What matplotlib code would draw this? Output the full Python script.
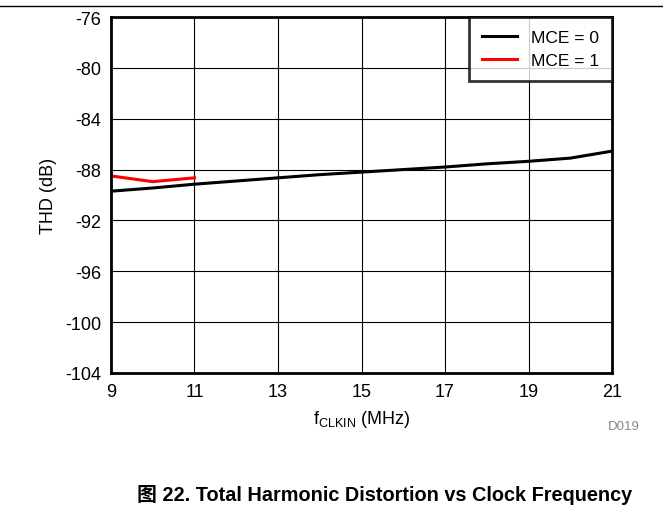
import matplotlib.pyplot as plt
import matplotlib.lines as mlines

plt.rcParams['font.family'] = ['Liberation Sans', 'Noto Sans CJK SC', 'DejaVu Sans']

# data
freq_mce0 = [9, 10, 11, 12, 13, 14, 15, 16, 17, 18, 19, 20, 21]
thd_mce0 = [-89.7, -89.45, -89.15, -88.9, -88.65, -88.4, -88.2, -88.0, -87.8, -87.55, -87.35, -87.1, -86.55]
freq_mce1 = [9, 10, 11]
thd_mce1 = [-88.5, -88.95, -88.65]

x_ticks = [9, 11, 13, 15, 17, 19, 21]
y_ticks = [-104, -100, -96, -92, -88, -84, -80, -76]

fig = plt.figure(figsize=(6.63, 5.10), dpi=100)
ax = fig.add_axes([0.1674, 0.2667, 0.7557, 0.698])

ax.plot(freq_mce0, thd_mce0, color='black', lw=2.2, label='MCE = 0')
ax.plot(freq_mce1, thd_mce1, color='#ff0000', lw=2.2, label='MCE = 1')

ax.set_xlim(9, 21)
ax.set_ylim(-104, -76)
ax.set_xticks(x_ticks)
ax.set_yticks(y_ticks)
ax.set_xticklabels([str(t) for t in x_ticks])
ax.set_yticklabels([str(t) for t in y_ticks])
ax.tick_params(length=0, labelsize=13, pad=7)
ax.grid(True, color='black', lw=0.8)
for s in ax.spines.values():
    s.set_linewidth(2)

ax.set_xlabel('f$_{\\mathregular{CLKIN}}$ (MHz)', fontsize=13, labelpad=6)
ax.set_ylabel('THD (dB)', fontsize=13, labelpad=6)

leg = ax.legend(loc='upper right', fontsize=12.5, frameon=True, fancybox=False,
                edgecolor='black', borderaxespad=0, handlelength=2.0,
                handletextpad=0.8, labelspacing=0.45, borderpad=0.75)
leg.get_frame().set_linewidth(2)

fig.text(0.965, 0.163, 'D019', fontsize=9.5, color='#888888', ha='right', va='center')
fig.add_artist(mlines.Line2D([0, 1], [0.987, 0.987], color='black', lw=1))
fig.text(0.58, 0.029, '图 22. Total Harmonic Distortion vs Clock Frequency',
         fontsize=14.3, fontweight='bold', ha='center', va='center')

fig.savefig('out.png', dpi=100)
